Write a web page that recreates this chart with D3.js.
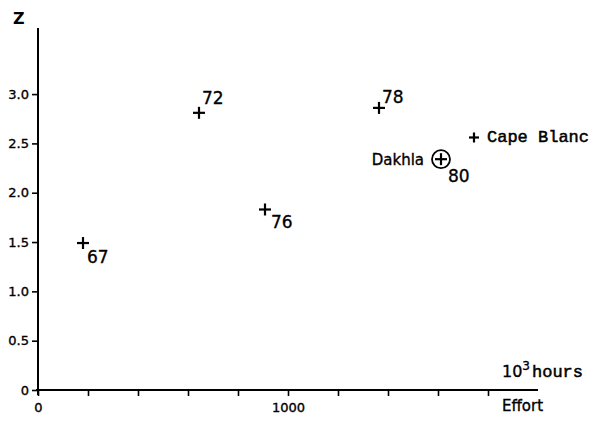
<!DOCTYPE html>
<html><head><meta charset="utf-8">
<script src="https://cdn.jsdelivr.net/npm/d3@7"></script>
<style>
html,body{margin:0;padding:0;background:#fff;}
svg{display:block;}
text{fill:#000;}
.thick{stroke:#000;stroke-width:0.35px;}
.monothick{stroke:#000;stroke-width:0.5px;}
</style>
</head><body>
<script>
// ---- data ----
const pointLabels = ["67", "72", "76", "78", "80", "Cape Blanc"];
const effort = [180, 644, 908, 1364, 1612, 1744];   // 10^3 hours
const zValues = [1.49, 2.81, 1.83, 2.86, 2.34, 2.56];
const yTicks = [0, 0.5, 1.0, 1.5, 2.0, 2.5, 3.0];
const xTicks = [0, 200, 400, 600, 800, 1000, 1200, 1400, 1600, 1800];
const xTickLabels = {0: "0", 1000: "1000"};

const W = 600, H = 421;
const svg = d3.select("body").append("svg").attr("width", W).attr("height", H);
const sans = "'DejaVu Sans', sans-serif";
const mono = "'Liberation Mono', 'DejaVu Sans Mono', monospace";

const x = d3.scaleLinear().domain([0, 2000]).range([38, 538]);
const y = d3.scaleLinear().domain([0, 3.67]).range([390, 28]);

// Y axis
const yAxis = d3.axisLeft(y).tickValues(yTicks).tickSize(6).tickPadding(3)
  .tickFormat(d => d === 0 ? "0" : d3.format(".1f")(d));
const gy = svg.append("g").attr("transform", `translate(${x(0)},0)`).call(yAxis);
gy.select(".domain").remove();
gy.selectAll(".tick line").attr("stroke", "#000").attr("stroke-width", 1.6);
gy.selectAll(".tick text").attr("font-family", sans).attr("font-size", 13).attr("fill", "#000")
  .attr("class", "thick");
svg.append("line").attr("x1", x(0)).attr("x2", x(0)).attr("y1", y(3.67)).attr("y2", y(0) + 5)
  .attr("stroke", "#000").attr("stroke-width", 2);

// X axis
const xAxis = d3.axisBottom(x).tickValues(xTicks).tickSize(6).tickPadding(7)
  .tickFormat(d => xTickLabels[d] || "");
const gx = svg.append("g").attr("transform", `translate(0,${y(0)})`).call(xAxis);
gx.select(".domain").remove();
gx.selectAll(".tick line").attr("stroke", "#000").attr("stroke-width", 1.6);
gx.selectAll(".tick text").attr("font-family", sans).attr("font-size", 13).attr("fill", "#000")
  .attr("class", "thick");
svg.append("line").attr("x1", x(0) - 2).attr("x2", x(2000)).attr("y1", y(0)).attr("y2", y(0))
  .attr("stroke", "#000").attr("stroke-width", 2);

// axis titles
svg.append("text").attr("x", 13).attr("y", 24).attr("font-family", sans)
  .attr("font-size", 16).attr("font-weight", "bold").text("Z");
const t1 = svg.append("text").attr("x", 502).attr("y", 377).attr("font-family", sans).attr("font-size", 16);
t1.append("tspan").attr("class", "thick").text("10");
t1.append("tspan").attr("dy", -7).attr("font-size", 12).attr("class", "thick").text("3");
t1.append("tspan").attr("dy", 7).attr("font-family", mono).attr("font-size", 17).attr("dx", 2)
  .attr("class", "monothick").text("hours");
svg.append("text").attr("x", 502).attr("y", 411).attr("font-family", sans).attr("font-size", 15)
  .attr("class", "thick").text("Effort");

// points
const pts = pointLabels.map((l, i) => ({label: l, e: effort[i], z: zValues[i]}));
const plus = (g, cx, cy, r) => {
  g.append("line").attr("x1", cx - r).attr("x2", cx + r).attr("y1", cy).attr("y2", cy)
    .attr("stroke", "#000").attr("stroke-width", 2.2);
  g.append("line").attr("x1", cx).attr("x2", cx).attr("y1", cy - r).attr("y2", cy + r)
    .attr("stroke", "#000").attr("stroke-width", 2.2);
};
const g = svg.append("g");
pts.forEach(p => {
  const cx = x(p.e), cy = y(p.z);
  if (p.label === "80") {
    plus(g, cx, cy, 6);
    g.append("circle").attr("cx", cx).attr("cy", cy).attr("r", 9)
      .attr("fill", "none").attr("stroke", "#000").attr("stroke-width", 1.8);
    g.append("text").attr("x", cx + 7).attr("y", cy + 23).attr("font-family", sans)
      .attr("font-size", 17).attr("class", "thick").text(p.label);
    g.append("text").attr("x", cx - 17).attr("y", cy + 6).attr("text-anchor", "end")
      .attr("font-family", sans).attr("font-size", 15).attr("class", "thick").text("Dakhla");
  } else if (p.label === "Cape Blanc") {
    plus(g, cx, cy, 5);
    g.append("text").attr("x", cx + 13).attr("y", cy + 5).attr("font-family", mono)
      .attr("font-size", 17).attr("class", "monothick").text(p.label);
  } else {
    plus(g, cx, cy, 6);
    const off = {"67": [4, 20], "72": [3, -9], "76": [6, 19], "78": [3, -5]}[p.label];
    g.append("text").attr("x", cx + off[0]).attr("y", cy + off[1]).attr("font-family", sans)
      .attr("font-size", 17).attr("class", "thick").text(p.label);
  }
});
</script>
</body></html>
